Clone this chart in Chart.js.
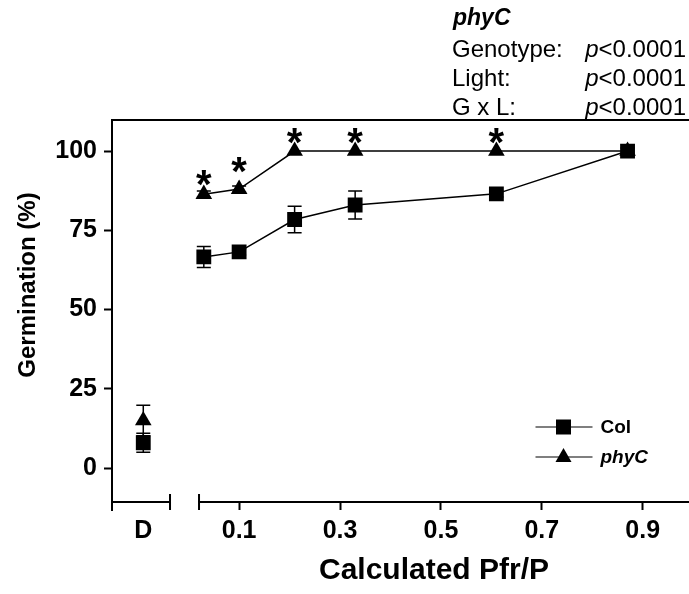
<!DOCTYPE html>
<html>
<head>
<meta charset="utf-8">
<script src="https://cdn.jsdelivr.net/npm/chart.js"></script>
<style>
  html, body { margin: 0; padding: 0; background: #fff; }
  canvas { display: block; }
</style>
</head>
<body>
<canvas id="chartGerm" width="689" height="594"></canvas>
<script>
// values
const D_POS = -0.09;           // where the dark (D) point sits on the x scale
const pfr = [0.03, 0.1, 0.21, 0.33, 0.61, 0.87];
const colMean = [66.6, 68.2, 78.4, 83, 86.5, 100];
const colSem = [3.3, 1, 4.2, 4.4, 1, 1];
const phyMean = [86.4, 88, 100, 100, 100, 100];
const phySem = [1, 1, 0, 0, 0, 0];
const darkCol = 8, darkColSem = 3;
const darkPhy = 15, darkPhySem = 4.8;
const starY = [92.4, 96.5, 105.7, 105.7, 105.7, null];

const X_TICKS = [D_POS, 0.1, 0.3, 0.5, 0.7, 0.9];
const X_TICK_LABELS = ['D', '0.1', '0.3', '0.5', '0.7', '0.9'];
const Y_TICKS = [0, 25, 50, 75, 100];
const BREAK_L = -0.037, BREAK_R = 0.0205;

const stats = [
  ['Genotype:', 'p<0.0001'],
  ['Light:', 'p<0.0001'],
  ['G x L:', 'p<0.0001'],
];

const FONT = "'Liberation Sans', Arial, sans-serif";
Chart.defaults.font.family = FONT;
Chart.defaults.color = '#000';

const colPts = [{x: D_POS, y: darkCol}].concat(pfr.map((x, i) => ({x: x, y: colMean[i]})));
const phyPts = [{x: D_POS, y: darkPhy}].concat(pfr.map((x, i) => ({x: x, y: phyMean[i]})));
const colErr = [darkColSem].concat(colSem);
const phyErr = [darkPhySem].concat(phySem);

const hideFirstSeg = ctx => ctx.p0DataIndex === 0 ? 'rgba(0,0,0,0)' : '#000';

function drawMarker(ctx, style, x, y) {
  ctx.beginPath();
  if (style === 'rect') {
    ctx.rect(x - 7.5, y - 7.5, 15, 15);
  } else {
    ctx.moveTo(x, y - 9);
    ctx.lineTo(x + 8, y + 5);
    ctx.lineTo(x - 8, y + 5);
    ctx.closePath();
  }
  ctx.fill();
}

const extras = {
  id: 'extras',
  beforeDatasetsDraw(chart) {
    const ctx = chart.ctx, ys = chart.scales.y;
    const errs = [colErr, phyErr];
    ctx.save();
    ctx.strokeStyle = '#000';
    ctx.lineWidth = 1.5;
    chart.data.datasets.forEach((ds, di) => {
      chart.getDatasetMeta(di).data.forEach((pt, i) => {
        const m = ds.data[i].y, e = errs[di][i];
        if (!e) return;
        const top = ys.getPixelForValue(m + e), bot = ys.getPixelForValue(m - e);
        ctx.beginPath();
        ctx.moveTo(pt.x, top); ctx.lineTo(pt.x, bot);
        ctx.moveTo(pt.x - 7, top); ctx.lineTo(pt.x + 7, top);
        ctx.moveTo(pt.x - 7, bot); ctx.lineTo(pt.x + 7, bot);
        ctx.stroke();
      });
    });
    ctx.restore();
  },
  afterDraw(chart) {
    const ctx = chart.ctx, xs = chart.scales.x, ys = chart.scales.y;
    const {left, right, top, bottom} = chart.chartArea;
    ctx.save();
    ctx.strokeStyle = '#000';
    ctx.fillStyle = '#000';

    // broken x axis, frame top and y axis stub
    ctx.lineWidth = 2;
    const bl = xs.getPixelForValue(BREAK_L), br = xs.getPixelForValue(BREAK_R);
    ctx.beginPath();
    ctx.moveTo(left, top); ctx.lineTo(chart.width, top);
    ctx.moveTo(left, bottom); ctx.lineTo(left, bottom + 9);
    ctx.moveTo(left, bottom); ctx.lineTo(bl, bottom);
    ctx.moveTo(bl, bottom - 8); ctx.lineTo(bl, bottom + 8);
    ctx.moveTo(br, bottom); ctx.lineTo(chart.width, bottom);
    ctx.moveTo(br, bottom - 8); ctx.lineTo(br, bottom + 8);
    ctx.stroke();

    // significance stars
    ctx.font = 'bold 40px ' + FONT;
    ctx.textAlign = 'center';
    ctx.textBaseline = 'alphabetic';
    starY.forEach((v, i) => {
      if (v == null) return;
      ctx.fillText('*', xs.getPixelForValue(pfr[i]), ys.getPixelForValue(v) + 23);
    });

    // legend
    const items = [
      {label: 'Col', style: 'rect', font: 'bold 19px ' + FONT},
      {label: 'phyC', style: 'triangle', font: 'italic bold 19px ' + FONT},
    ];
    ctx.textAlign = 'left';
    ctx.textBaseline = 'middle';
    ctx.lineWidth = 1.2;
    items.forEach((it, i) => {
      const y = bottom - 75 + i * 30, x0 = right - 143;
      ctx.beginPath();
      ctx.moveTo(x0, y); ctx.lineTo(x0 + 57, y);
      ctx.stroke();
      drawMarker(ctx, it.style, x0 + 28, y);
      ctx.font = it.font;
      ctx.fillText(it.label, x0 + 65, y + 1);
    });

    // statistics block
    ctx.textBaseline = 'alphabetic';
    ctx.font = 'italic bold 23px ' + FONT;
    ctx.fillText('phyC', 453, 25);
    const base = [57, 86, 115];
    stats.forEach((s, i) => {
      ctx.font = '24px ' + FONT;
      ctx.textAlign = 'left';
      ctx.fillText(s[0], 452, base[i]);
      ctx.textAlign = 'right';
      const num = s[1].slice(1);
      const wNum = ctx.measureText(num).width;
      ctx.fillText(num, 686, base[i]);
      ctx.font = 'italic 24px ' + FONT;
      ctx.fillText('p', 686 - wNum, base[i]);
    });

    // axis titles
    ctx.textAlign = 'center';
    ctx.textBaseline = 'middle';
    ctx.font = 'bold 30px ' + FONT;
    ctx.fillText('Calculated Pfr/P', 434, 571);
    ctx.translate(28, 285);
    ctx.rotate(-Math.PI / 2);
    ctx.font = 'bold 24px ' + FONT;
    ctx.fillText('Germination (%)', 0, 0);
    ctx.restore();
  }
};

const config = {
  type: 'line',
  data: {
    datasets: [
      {
        label: 'Col',
        data: colPts,
        borderColor: '#000',
        borderWidth: 1.5,
        backgroundColor: '#000',
        pointStyle: 'rect',
        pointRadius: 10.5,
        pointBorderWidth: 0,
        segment: {borderColor: hideFirstSeg},
      },
      {
        label: 'phyC',
        data: phyPts,
        borderColor: '#000',
        borderWidth: 1.5,
        backgroundColor: '#000',
        pointStyle: 'triangle',
        pointRadius: 9.6,
        pointBorderWidth: 0,
        segment: {borderColor: hideFirstSeg},
      },
    ],
  },
  options: {
    responsive: false,
    animation: false,
    layout: {padding: {top: 120, left: 0, right: 0, bottom: 0}},
    plugins: {
      legend: {display: false},
      tooltip: {enabled: false},
    },
    scales: {
      x: {
        type: 'linear',
        min: -0.152,
        max: 0.971,
        afterBuildTicks: s => { s.ticks = X_TICKS.map(v => ({value: v})); },
        afterFit: s => { s.height = 92; },
        border: {display: false},
        grid: {
          drawOnChartArea: false,
          tickLength: 8,
          tickWidth: 2,
          color: c => (c.tick && c.tick.value === D_POS) ? 'rgba(0,0,0,0)' : '#000',
        },
        ticks: {
          autoSkip: false,
          maxRotation: 0,
          padding: 6,
          font: {size: 25, weight: 'bold'},
          callback: (v, i) => X_TICK_LABELS[i],
        },
      },
      y: {
        min: -10.7,
        max: 109.8,
        afterBuildTicks: s => { s.ticks = Y_TICKS.map(v => ({value: v})); },
        afterFit: s => { s.width = 112; },
        border: {display: true, color: '#000', width: 2},
        grid: {drawOnChartArea: false, tickLength: 8, tickWidth: 2, color: '#000'},
        ticks: {padding: 7, font: {size: 25, weight: 'bold'}},
      },
    },
  },
  plugins: [extras],
};

const chartGerm = new Chart(document.getElementById('chartGerm'), config);
</script>
</body>
</html>
